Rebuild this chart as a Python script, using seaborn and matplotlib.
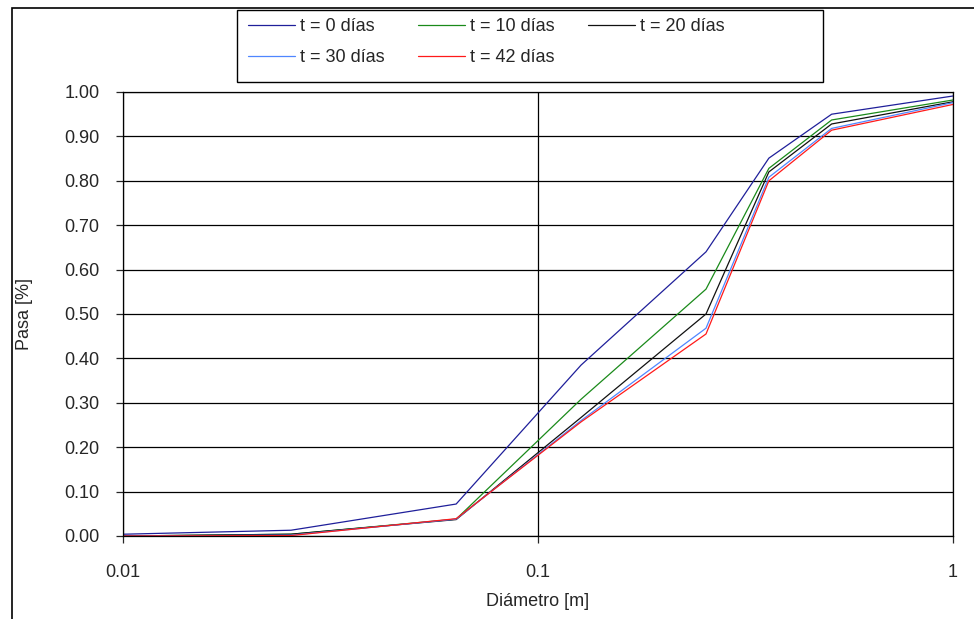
import pandas as pd
import matplotlib
matplotlib.use('Agg')
import matplotlib.pyplot as plt
import matplotlib.ticker as mticker
import seaborn as sns

# datos
diametro = [0.01, 0.0254, 0.0635, 0.127, 0.254, 0.36, 0.51, 1.0]
t0 = [0.004, 0.013, 0.072, 0.385, 0.640, 0.851, 0.950, 0.991]
t10 = [0.0, 0.004, 0.038, 0.308, 0.556, 0.828, 0.937, 0.982]
t20 = [0.0, 0.004, 0.037, 0.267, 0.500, 0.820, 0.928, 0.978]
t30 = [0.0, 0.002, 0.038, 0.260, 0.468, 0.808, 0.918, 0.976]
t42 = [0.0, 0.001, 0.039, 0.257, 0.455, 0.800, 0.914, 0.972]
series = ['t = 0 días', 't = 10 días', 't = 20 días', 't = 30 días', 't = 42 días']
colores = ['#1f1f9a', '#1a8a1a', '#111111', '#4f86ff', '#ff1a1a']

df = pd.DataFrame({
    'Diametro': diametro * 5,
    'Pasa': t0 + t10 + t20 + t30 + t42,
    'serie': [s for s in series for _ in diametro],
})

sns.set_style('white')
plt.rcParams['font.family'] = ['Liberation Sans', 'DejaVu Sans']
fs = 13

fig = plt.figure(figsize=(9.74, 6.19), dpi=100)
ax = fig.add_axes([123 / 974, 1 - 536 / 619, 830 / 974, 444 / 619])

sns.lineplot(data=df, x='Diametro', y='Pasa', hue='serie', hue_order=series,
             palette=dict(zip(series, colores)), linewidth=0.9, ax=ax,
             estimator=None, sort=False)

ax.set_xscale('log')
ax.set_xlim(0.01, 1)
ax.set_ylim(0, 1)
ax.xaxis.set_major_locator(mticker.FixedLocator([0.01, 0.1, 1]))
ax.xaxis.set_major_formatter(mticker.FixedFormatter(['0.01', '0.1', '1']))
ax.xaxis.set_minor_locator(mticker.NullLocator())
ax.yaxis.set_major_locator(mticker.MultipleLocator(0.1))
ax.yaxis.set_major_formatter(mticker.FormatStrFormatter('%.2f'))

ax.grid(True, which='major', color='black', linewidth=0.9)
ax.set_axisbelow(True)
for sp in ax.spines.values():
    sp.set_color('black')
    sp.set_linewidth(0.9)
ax.tick_params(axis='y', direction='out', length=5, width=0.9, pad=12, labelsize=fs, left=True)
ax.tick_params(axis='x', direction='out', length=5, width=0.9, pad=15, labelsize=fs, bottom=True)

ax.set_xlabel('Diámetro [m]', fontsize=fs, labelpad=9)
ax.set_ylabel('Pasa [%]', fontsize=fs)
ax.yaxis.set_label_coords(-0.108, 0.5)

# leyenda arriba, llenada por filas
h, l = ax.get_legend_handles_labels()
ax.get_legend().remove()
orden = [0, 3, 1, 4, 2]
leg = fig.legend([h[i] for i in orden], [l[i] for i in orden], ncol=3,
                 loc='upper left', bbox_to_anchor=(240 / 974, 1 - 10 / 619),
                 fontsize=fs, frameon=False, handlelength=2.6, handletextpad=0.28,
                 columnspacing=1.85, labelspacing=0.78, borderpad=0.45,
                 borderaxespad=0)

# caja de la leyenda y marco exterior
fig.patches.append(plt.Rectangle((237 / 974, 1 - 82 / 619), 586 / 974, 72 / 619,
                                 transform=fig.transFigure, fill=False,
                                 edgecolor='black', linewidth=1.0))
fig.patches.append(plt.Rectangle((12 / 974, -0.05), 1.0, 1 - 8 / 619 + 0.05,
                                 transform=fig.transFigure, fill=False,
                                 edgecolor='black', linewidth=1.2))

fig.savefig('out.png', dpi=100)
